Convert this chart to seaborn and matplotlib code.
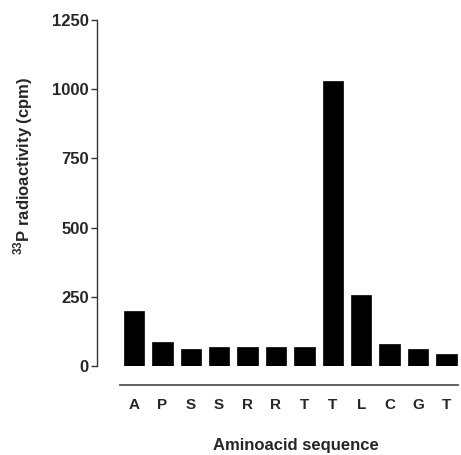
import matplotlib
matplotlib.use("Agg")
import matplotlib.pyplot as plt
import seaborn as sns
import pandas as pd

residues = ["A", "P", "S", "S", "R", "R", "T", "T", "L", "C", "G", "T"]
cpm = [200, 85, 60, 68, 70, 70, 70, 1030, 256, 80, 60, 42]
y_ticks = [0, 250, 500, 750, 1000, 1250]

sns.set_theme(style="ticks")
plt.rcParams["font.family"] = ["Liberation Sans", "DejaVu Sans"]
plt.rcParams["font.weight"] = "bold"
plt.rcParams["mathtext.fontset"] = "custom"
plt.rcParams["mathtext.rm"] = "Liberation Sans:bold"
plt.rcParams["mathtext.bf"] = "Liberation Sans:bold"

df = pd.DataFrame({"pos": list(range(len(residues))), "cpm": cpm})

fig = plt.figure(figsize=(4.61, 4.55), dpi=100)
ax = fig.add_axes([97 / 461, 89 / 455, 361 / 461, 346 / 455])

sns.barplot(data=df, x="pos", y="cpm", native_scale=True, width=0.72,
            color="black", edgecolor="black", linewidth=0.5, ax=ax)

ax.set_xlim(-1.3, 11.41)
ax.set_ylim(0, 1250)
ax.set_yticks(y_ticks)
ax.set_yticklabels([str(v) for v in y_ticks], fontsize=12, fontweight="bold")
ax.set_xticks(list(range(len(residues))))
ax.set_xticklabels(residues, fontsize=13.5, fontweight="bold")

ax.tick_params(axis="y", length=4, width=1, color="#333333", pad=2)
ax.tick_params(axis="x", length=0, pad=9)

for s in ["top", "right"]:
    ax.spines[s].set_visible(False)
ax.spines["left"].set_color("#333333")
ax.spines["left"].set_linewidth(1)
ax.spines["bottom"].set_position(("outward", 14))
ax.spines["bottom"].set_bounds(-0.49, 11.41)
ax.spines["bottom"].set_color("#555555")
ax.spines["bottom"].set_linewidth(1.3)

ax.set_xlabel("Aminoacid sequence", fontsize=12, fontweight="bold")
ax.xaxis.set_label_coords((296 - 97) / 361, (366 - 438) / 346)
ax.set_ylabel(r"$^{33}$P radioactivity (cpm)", fontsize=12, fontweight="bold")
ax.yaxis.set_label_coords((35 - 97) / 361, (366 - 166) / 346)

fig.savefig("out.png", dpi=100)
